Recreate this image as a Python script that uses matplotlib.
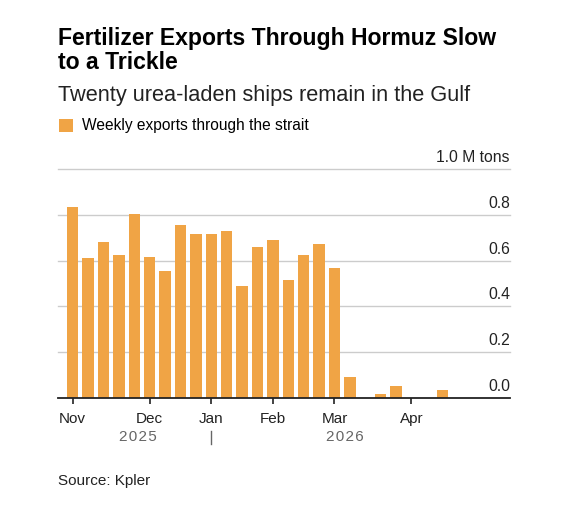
import matplotlib.pyplot as plt
from matplotlib.patches import Patch

plt.rcParams['font.family'] = ['Liberation Sans', 'DejaVu Sans']

# weekly exports, week starting Sun 2 Nov 2025
week_values = [0.833, 0.614, 0.683, 0.623, 0.805, 0.617, 0.556, 0.755, 0.718,
               0.715, 0.728, 0.490, 0.661, 0.689, 0.515, 0.626, 0.672, 0.569,
               0.090, 0.0, 0.019, 0.054, 0.0, 0.0, 0.034]
month_ticks = [0, 5, 9, 13, 17, 22]
month_labels = ["Nov", "Dec", "Jan", "Feb", "Mar", "Apr"]
y_ticks = [0.0, 0.2, 0.4, 0.6, 0.8, 1.0]
y_labels = ["0.0", "0.2", "0.4", "0.6", "0.8", "1.0 M tons"]

bar_color = "#F0A445"

fig = plt.figure(figsize=(5.66, 5.12), dpi=100)
ax = fig.add_axes([0.103, 0.2227, 0.798, 0.4467])

x = range(len(week_values))
ax.bar(x, week_values, width=0.74, color=bar_color, zorder=2,
       label="Weekly exports through the strait")

ax.set_xlim(-0.935, 28.4)
ax.set_ylim(0, 1.0)

# gridlines + labels sitting on top of them
for v in y_ticks[1:]:
    ax.axhline(v, color="#cccccc", lw=1, zorder=1, clip_on=False)
for v, lab in zip(y_ticks, y_labels):
    ax.annotate(lab, xy=(1.0, v), xycoords=("axes fraction", "data"),
                xytext=(0, 3), textcoords="offset points",
                ha="right", va="bottom", fontsize=11.3, color="#222222")

for s in ["top", "right", "left"]:
    ax.spines[s].set_visible(False)
ax.spines["bottom"].set_color("#222222")
ax.spines["bottom"].set_linewidth(1.3)
ax.spines["bottom"].set_zorder(3)

ax.set_yticks([])
ax.set_xticks(month_ticks)
ax.set_xticklabels(month_labels, fontsize=11, color="#222222")
ax.tick_params(axis="x", length=4, width=1.2, color="#222222", pad=6)

# year row (letter-spaced)
hs = "\u200a"
ax.text(4.25, -0.17, hs.join("2025"), transform=ax.get_xaxis_transform(),
        ha="center", va="center", fontsize=11, color="#666666")
ax.text(17.7, -0.17, hs.join("2026"), transform=ax.get_xaxis_transform(),
        ha="center", va="center", fontsize=11, color="#666666")
ax.plot([9, 9], [-0.145, -0.2], transform=ax.get_xaxis_transform(),
        color="#666666", lw=1, clip_on=False)

fig.text(0.1025, 0.9121, "Fertilizer Exports Through Hormuz Slow",
         ha="left", va="baseline", fontsize=16.6, fontweight="bold",
         color="#000000")
fig.text(0.1025, 0.8646, "to a Trickle",
         ha="left", va="baseline", fontsize=16.6, fontweight="bold",
         color="#000000")
fig.text(0.1025, 0.8033, "Twenty urea-laden ships remain in the Gulf",
         ha="left", va="baseline", fontsize=15.7, color="#222222")

leg = fig.legend(handles=[Patch(facecolor=bar_color, edgecolor="none",
                                label="Weekly exports through the strait")],
                 loc="upper left", bbox_to_anchor=(0.079, 0.796),
                 frameon=False, fontsize=11.2, handlelength=0.9,
                 handleheight=0.9, handletextpad=0.6)

fig.text(0.1025, 0.053, "Source: Kpler", ha="left", va="baseline",
         fontsize=11, color="#222222")

fig.savefig("out.png", dpi=100)
